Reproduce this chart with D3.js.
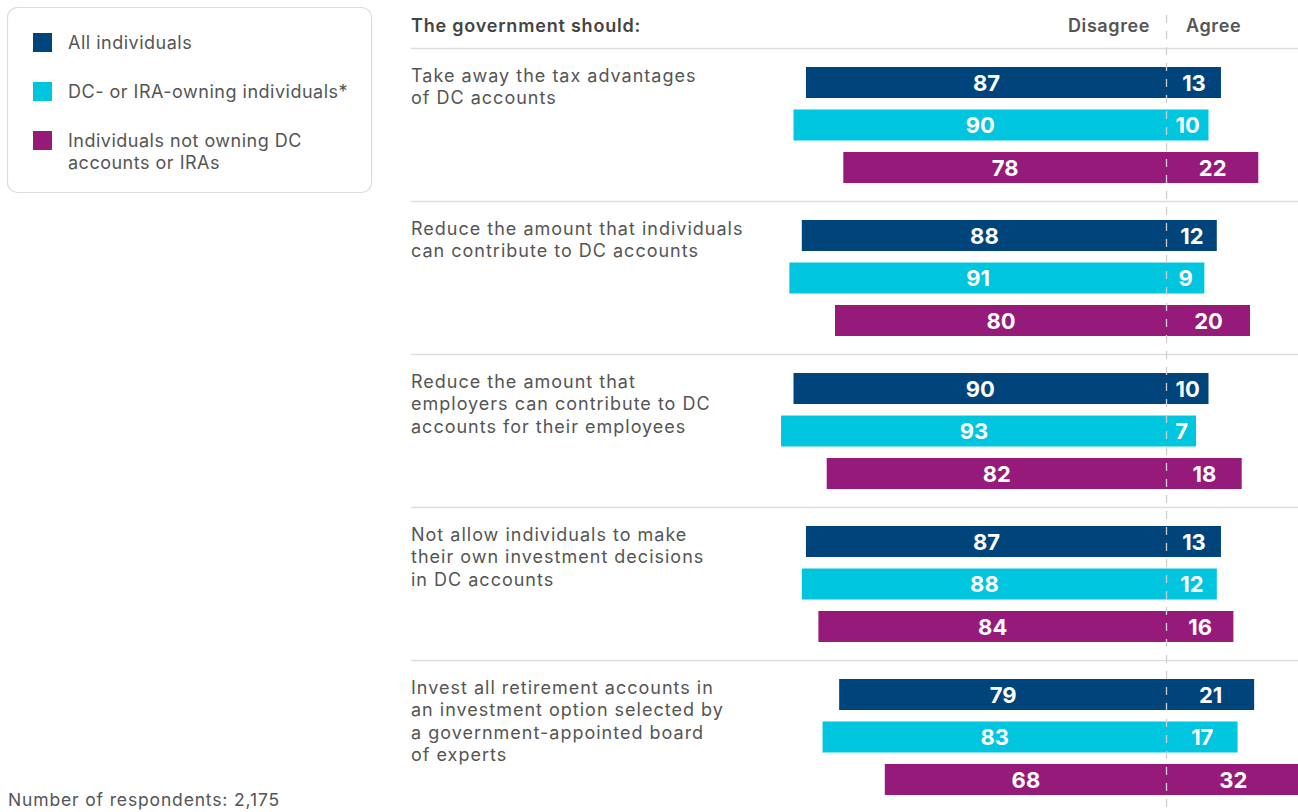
<!DOCTYPE html>
<html>
<head>
<meta charset="utf-8">
<script src="https://cdn.jsdelivr.net/npm/d3@7.9.0/dist/d3.min.js"></script>
<style>
  body { margin: 0; background: #fff; }
  svg text { font-family: Inter, "Noto Sans", sans-serif; }
</style>
</head>
<body>
<svg id="chart" width="1298" height="812"></svg>
<script>
// questions (category labels, already wrapped as in the original)
const questions = [
  ['Take away the tax advantages', 'of DC accounts'],
  ['Reduce the amount that individuals', 'can contribute to DC accounts'],
  ['Reduce the amount that', 'employers can contribute to DC', 'accounts for their employees'],
  ['Not allow individuals to make', 'their own investment decisions', 'in DC accounts'],
  ['Invest all retirement accounts in', 'an investment option selected by', 'a government-appointed board', 'of experts']
];
const groups = ['All individuals', 'DC- or IRA-owning individuals*', 'Individuals not owning DC accounts or IRAs'];
const legendLines = [['All individuals'], ['DC- or IRA-owning individuals*'], ['Individuals not owning DC', 'accounts or IRAs']];
const colors = ['#00447c', '#00c5df', '#961a7a'];

// percent disagree / agree per question, per group
const disagree = [
  [87, 90, 78],
  [88, 91, 80],
  [90, 93, 82],
  [87, 88, 84],
  [79, 83, 68]
];
const agree = [
  [13, 10, 22],
  [12, 9, 20],
  [10, 7, 18],
  [13, 12, 16],
  [21, 17, 32]
];

const svg = d3.select('#chart');
const center = 1167;
const unit = 4.15;
const xDis = d3.scaleLinear().domain([0, 100]).range([center, center - 100 * unit]);
const xAgr = d3.scaleLinear().domain([0, 100]).range([center, center + 100 * unit]);

const groupTop = d3.scaleLinear().domain([0, 1]).range([48.5, 48.5 + 153]);
const rowY = d3.scaleLinear().domain([0, 1]).range([18.5, 18.5 + 42.5]);
const barH = 31;

// legend box
const legend = svg.append('g');
legend.append('rect')
  .attr('x', 7.5).attr('y', 7.5).attr('width', 364).attr('height', 185)
  .attr('rx', 10).attr('fill', '#fff').attr('stroke', '#dcdcdc').attr('stroke-width', 1.2);
legendLines.forEach((lines, i) => {
  const y = 33 + i * 49;
  legend.append('rect').attr('x', 33).attr('y', y).attr('width', 19).attr('height', 19).attr('fill', colors[i]);
  lines.forEach((l, j) => {
    legend.append('text').attr('x', 68).attr('y', y + 15.5 + j * 22)
      .attr('font-size', 18).attr('letter-spacing', 0.5).attr('fill', '#555').text(l);
  });
});

// header
svg.append('text').attr('x', 411).attr('y', 32).attr('font-size', 18).attr('font-weight', 600)
  .attr('letter-spacing', 0.8).attr('fill', '#444').text('The government should:');
svg.append('text').attr('x', 1150).attr('y', 32).attr('font-size', 18).attr('font-weight', 600)
  .attr('letter-spacing', 0.6).attr('fill', '#555').attr('text-anchor', 'end').text('Disagree');
svg.append('text').attr('x', 1186).attr('y', 32).attr('font-size', 18).attr('font-weight', 600)
  .attr('letter-spacing', 0.6).attr('fill', '#555').text('Agree');

// separators
questions.forEach((q, i) => {
  svg.append('line').attr('x1', 411).attr('x2', 1298)
    .attr('y1', groupTop(i)).attr('y2', groupTop(i))
    .attr('stroke', '#dddddd').attr('stroke-width', 1.5);
});

// bars
questions.forEach((q, i) => {
  const g = svg.append('g').attr('transform', `translate(0,${groupTop(i)})`);
  q.forEach((line, j) => {
    g.append('text').attr('x', 411).attr('y', 33 + j * 22.5)
      .attr('font-size', 18).attr('letter-spacing', 1).attr('fill', '#555').text(line);
  });
  groups.forEach((grp, k) => {
    const y = rowY(k), h = barH;
    const d = disagree[i][k], a = agree[i][k];
    g.append('rect').attr('x', xDis(d)).attr('y', y).attr('width', xDis(0) - xDis(d)).attr('height', h).attr('fill', colors[k]);
    g.append('rect').attr('x', xAgr(0)).attr('y', y).attr('width', xAgr(a) - xAgr(0)).attr('height', h).attr('fill', colors[k]);
    g.append('text').attr('x', (xDis(d) + xDis(0)) / 2).attr('y', y + h / 2 + 8)
      .attr('text-anchor', 'middle').attr('font-size', 22).attr('font-weight', 700).attr('fill', '#fff').text(d);
    g.append('text').attr('x', (xAgr(a) + xAgr(0)) / 2).attr('y', y + h / 2 + 8)
      .attr('text-anchor', 'middle').attr('font-size', 22).attr('font-weight', 700).attr('fill', '#fff').text(a);
  });
});

// dashed center line
svg.append('line').attr('x1', center - 0.5).attr('x2', center - 0.5).attr('y1', 15).attr('y2', 808)
  .attr('stroke', '#cfcfcf').attr('stroke-width', 1.3).attr('stroke-dasharray', '8,8');

// footer
svg.append('text').attr('x', 8).attr('y', 806).attr('font-size', 17.5).attr('letter-spacing', 0.85).attr('fill', '#555')
  .text('Number of respondents: 2,175');
</script>
</body>
</html>
